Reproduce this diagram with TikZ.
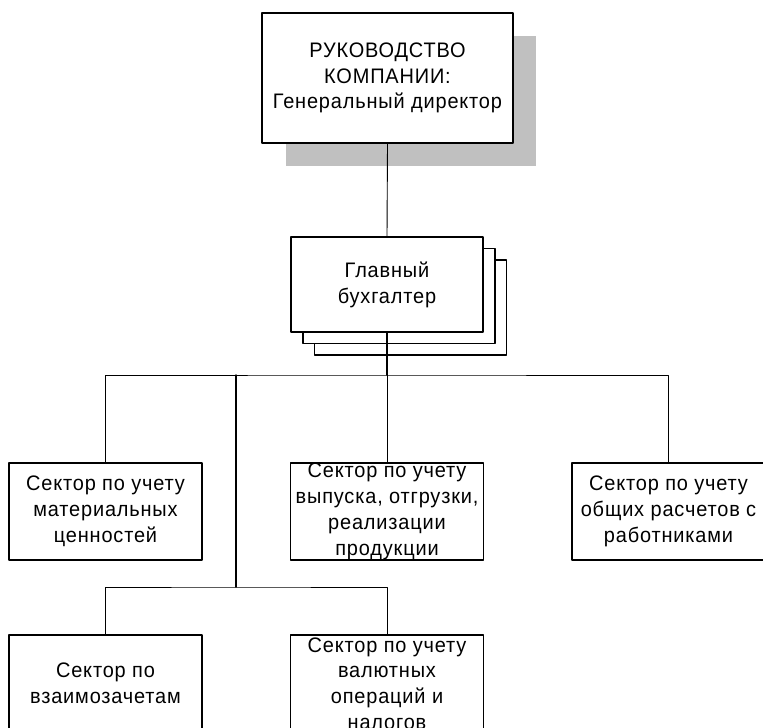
\documentclass[tikz,border=0pt]{standalone}
\usepackage{fontspec}
\setmainfont{Liberation Sans}[FakeStretch=0.95,LetterSpace=4]
\usetikzlibrary{calc,positioning}
\definecolor{ShadowGray}{HTML}{C0C0C0}

\begin{document}
\begin{tikzpicture}[x=1pt,y=-1pt,line cap=round,line join=round,
    every node/.style={font=\fontsize{21}{25.8}\selectfont,align=center,inner sep=0pt},
    unitbox/.style={draw,line width=1.6pt,fill=white,minimum width=193pt,minimum height=97pt},
    link/.style={line width=0.9pt}]
  \useasboundingbox (0,0) rectangle (763,728);

  % company head with shadow
  \fill[ShadowGray] (286,36) rectangle (536,166);
  \node[unitbox,minimum width=251pt,minimum height=130pt] (boss) at (387.5,78)
    {РУКОВОДСТВО\\КОМПАНИИ:\\Генеральный директор};

  % chief accountant (stacked)
  \node[unitbox,minimum width=192pt,minimum height=95pt] (chief3) at (410.5,307.5) {};
  \node[unitbox,minimum width=192pt,minimum height=95pt] (chief2) at (399,296) {};
  \node[unitbox,minimum width=192pt,minimum height=95pt] (chief) at (387,284.5)
    {Главный\\бухгалтер};

  % sectors
  \node[unitbox] (secA) at (105.5,511.5) {Сектор по учету\\материальных\\ценностей};
  \node[unitbox] (secB) at (387,511.5) {Сектор по учету\\выпуска, отгрузки,\\реализации\\продукции};
  \node[unitbox] (secC) at (668.5,511.5) {Сектор по учету\\общих расчетов с\\работниками};
  \node[unitbox] (secD) at (105.5,683.5) {Сектор по\\взаимозачетам};
  \node[unitbox] (secE) at (387,683.5) {Сектор по учету\\валютных\\операций и\\налогов};

  \coordinate (bus) at (387,375);
  \coordinate (sub) at (236,375);
  \coordinate (sub2) at (236,587);

  \draw[link] (boss.south) -- (chief.north);
  \draw[link,line width=1.4pt] (chief.south) -- (bus);
  \draw[link] (secA.north) |- (bus) -| (secC.north);
  \draw[link] (bus) -- (secB.north);
  \draw[link,line width=1.4pt] (sub) -- (sub2);
  \draw[link] (secD.north) |- (sub2) -| (secE.north);
\end{tikzpicture}
\end{document}
